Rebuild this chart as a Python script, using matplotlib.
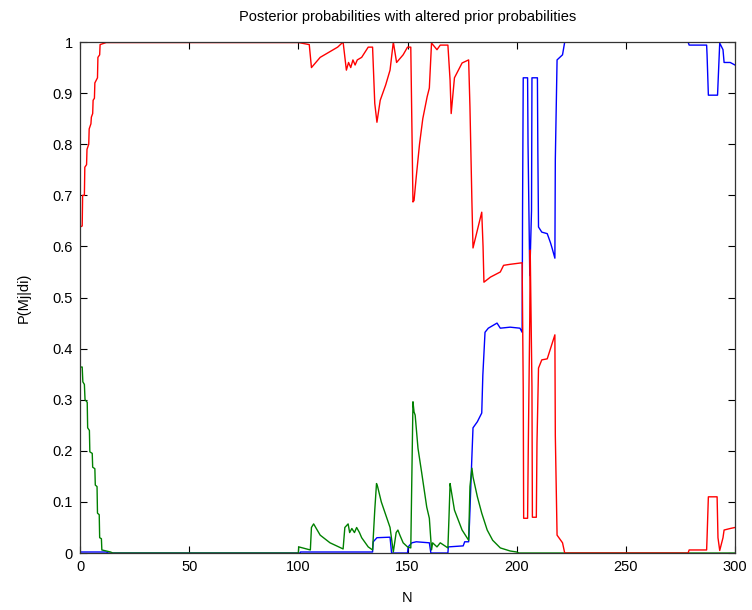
import matplotlib
matplotlib.use('Agg')
import matplotlib.pyplot as plt

plt.rcParams['font.family'] = ['Liberation Sans', 'DejaVu Sans']
plt.rcParams['font.size'] = 10

# red: P(M1|d)
red_x = [0, 1, 1.2, 2, 2.2, 3, 3.2, 4, 4.2, 5, 5.2, 5.8, 6, 6.6, 6.8, 8, 8.2, 9, 9.2, 12,
         100, 105, 106, 107, 110, 114, 118, 120.5, 122, 123, 124, 125, 126, 127, 129, 132, 134,
         135, 136, 137.5, 140, 142, 143.5, 145, 148, 150, 151.5, 152, 152.5, 153, 154, 155.5,
         157, 159, 160, 161, 163.5, 165, 168.5, 169.5, 170, 171.5, 175, 178, 178.6, 179.5, 180,
         182, 184, 184.6, 185, 188, 192.5, 194, 197, 202.5, 203, 203.2, 205, 205.3, 206, 206.2,
         206.6, 207, 207.2, 209, 209.3, 210, 211.5, 214, 217.5, 217.7, 218.5, 221, 222, 278.5,
         279, 287, 287.2, 287.8, 291.8, 292.2, 293, 294.5, 295, 297.8, 300]
red_y = [0.638, 0.64, 0.70, 0.70, 0.755, 0.76, 0.79, 0.80, 0.83, 0.84, 0.853, 0.86, 0.886, 0.89,
         0.92, 0.93, 0.97, 0.975, 0.995, 0.999,
         0.999, 0.995, 0.95, 0.955, 0.97, 0.98, 0.99, 1.0, 0.945, 0.96, 0.95, 0.965, 0.955, 0.965,
         0.97, 0.99, 0.99, 0.88, 0.843, 0.886, 0.916, 0.945, 1.0, 0.96, 0.975, 0.99, 0.99, 0.838,
         0.687, 0.69, 0.736, 0.8, 0.85, 0.893, 0.91, 0.998, 0.985, 0.994, 0.994, 0.925, 0.86,
         0.93, 0.959, 0.965, 0.873, 0.687, 0.597, 0.632, 0.667, 0.6, 0.53, 0.54, 0.55, 0.563,
         0.565, 0.568, 0.323, 0.068, 0.068, 0.2, 0.46, 0.593, 0.46, 0.325, 0.07, 0.07, 0.215,
         0.362, 0.378, 0.38, 0.427, 0.23, 0.035, 0.02, 0.0, 0.0,
         0.006, 0.006, 0.03, 0.11, 0.11, 0.03, 0.005, 0.03, 0.045, 0.048, 0.05]

# green: P(M2|d)
green_x = [0, 1, 1.3, 2, 2.3, 3.3, 3.5, 4.3, 4.5, 5.6, 5.8, 6.8, 7, 7.8, 8, 8.8, 9, 9.8, 10, 14,
           15, 100, 100.2, 105.5, 106, 107, 110, 114.5, 120.5, 121.3, 122.8, 123.5, 124.5, 125.7,
           126.7, 128, 129, 132, 134, 135, 135.8, 136.3, 138, 140, 142, 143.5, 144.8, 145.6,
           146.5, 148, 150, 151.5, 152, 152.5, 153, 153.5, 154.8, 156.5, 158.8, 160, 161, 161.5,
           163.5, 165, 168.5, 169, 169.5, 170, 171.5, 175, 178, 178.6, 179.5, 180, 182, 184,
           186.5, 189, 192.5, 197, 200, 201, 300]
green_y = [0.364, 0.364, 0.335, 0.33, 0.3, 0.295, 0.245, 0.24, 0.198, 0.195, 0.168, 0.165, 0.133,
           0.13, 0.078, 0.075, 0.03, 0.028, 0.006, 0.002,
           0.0, 0.0, 0.012, 0.006, 0.05, 0.057, 0.035, 0.02, 0.008, 0.05, 0.057, 0.04, 0.048,
           0.04, 0.05, 0.04, 0.03, 0.012, 0.006, 0.084, 0.136, 0.13, 0.1, 0.075, 0.05, 0.002,
           0.04, 0.045, 0.035, 0.02, 0.012, 0.01, 0.153, 0.296, 0.276, 0.27, 0.205, 0.157, 0.09,
           0.068, 0.006, 0.02, 0.012, 0.02, 0.01, 0.07, 0.136, 0.123, 0.084, 0.045, 0.025, 0.13,
           0.166, 0.149, 0.11, 0.078, 0.045, 0.025, 0.01, 0.004, 0.002, 0.0, 0.0]

# blue: P(M3|d)
blue_x = [0, 12, 13, 100.8, 101, 134, 134.3, 136, 142, 142.7, 150, 150.3, 152, 154, 160, 160.7,
          168.5, 168.7, 175.5, 176.2, 178, 178.4, 179.5, 180, 182, 184, 184.5, 185.5, 187, 191,
          192.5, 197, 201.5, 202.5, 202.7, 203, 205, 205.2, 206, 206.8, 207, 209.5, 209.7, 210,
          211.5, 214, 215.5, 216.2, 217.5, 217.7, 218.5, 221, 222, 278.5, 279, 287, 287.2, 287.8,
          292, 293, 294.5, 295, 297.8, 300]
blue_y = [0.002, 0.002, 0.0, 0.0, 0.002, 0.002, 0.022, 0.03, 0.031, 0.0, 0.0, 0.012, 0.02, 0.022,
          0.02, 0.0, 0.0, 0.012, 0.014, 0.022, 0.022, 0.06, 0.19, 0.245, 0.257, 0.274, 0.348,
          0.432, 0.44, 0.45, 0.44, 0.442, 0.44, 0.432, 0.677, 0.93, 0.93, 0.80, 0.543, 0.67, 0.93,
          0.93, 0.785, 0.638, 0.628, 0.625, 0.607, 0.597, 0.577, 0.77, 0.965, 0.975, 1.0, 1.0,
          0.994, 0.994, 0.975, 0.896, 0.896, 0.998, 0.985, 0.96, 0.96, 0.955]

x_ticks = [0, 50, 100, 150, 200, 250, 300]
y_ticks = [0, 0.1, 0.2, 0.3, 0.4, 0.5, 0.6, 0.7, 0.8, 0.9, 1]
y_tick_labels = ['0', '0.1', '0.2', '0.3', '0.4', '0.5', '0.6', '0.7', '0.8', '0.9', '1']

fig = plt.figure(figsize=(7.52, 6.10), dpi=100)
ax = fig.add_axes([0.1064, 0.0934, 0.871, 0.8377])

ax.plot(blue_x, blue_y, color='#0000ff', lw=1.0)
ax.plot(green_x, green_y, color='#008000', lw=1.0)
ax.plot(red_x, red_y, color='#ff0000', lw=1.0)

ax.set_xlim(0, 300)
ax.set_ylim(0, 1)
ax.set_xticks(x_ticks)
ax.set_yticks(y_ticks)
ax.set_yticklabels(y_tick_labels)
ax.tick_params(direction='in', length=5, top=True, right=True, labelsize=10.5, pad=5)
for s in ax.spines.values():
    s.set_color('#333333')
    s.set_linewidth(0.9)

ax.set_title('Posterior probabilities with altered prior probabilities', fontsize=10.5, pad=15)
ax.set_xlabel('N', fontsize=10.5, labelpad=12)
ax.set_ylabel('P(Mj|di)', fontsize=10.5, labelpad=16)

fig.savefig('out.png', dpi=100)
